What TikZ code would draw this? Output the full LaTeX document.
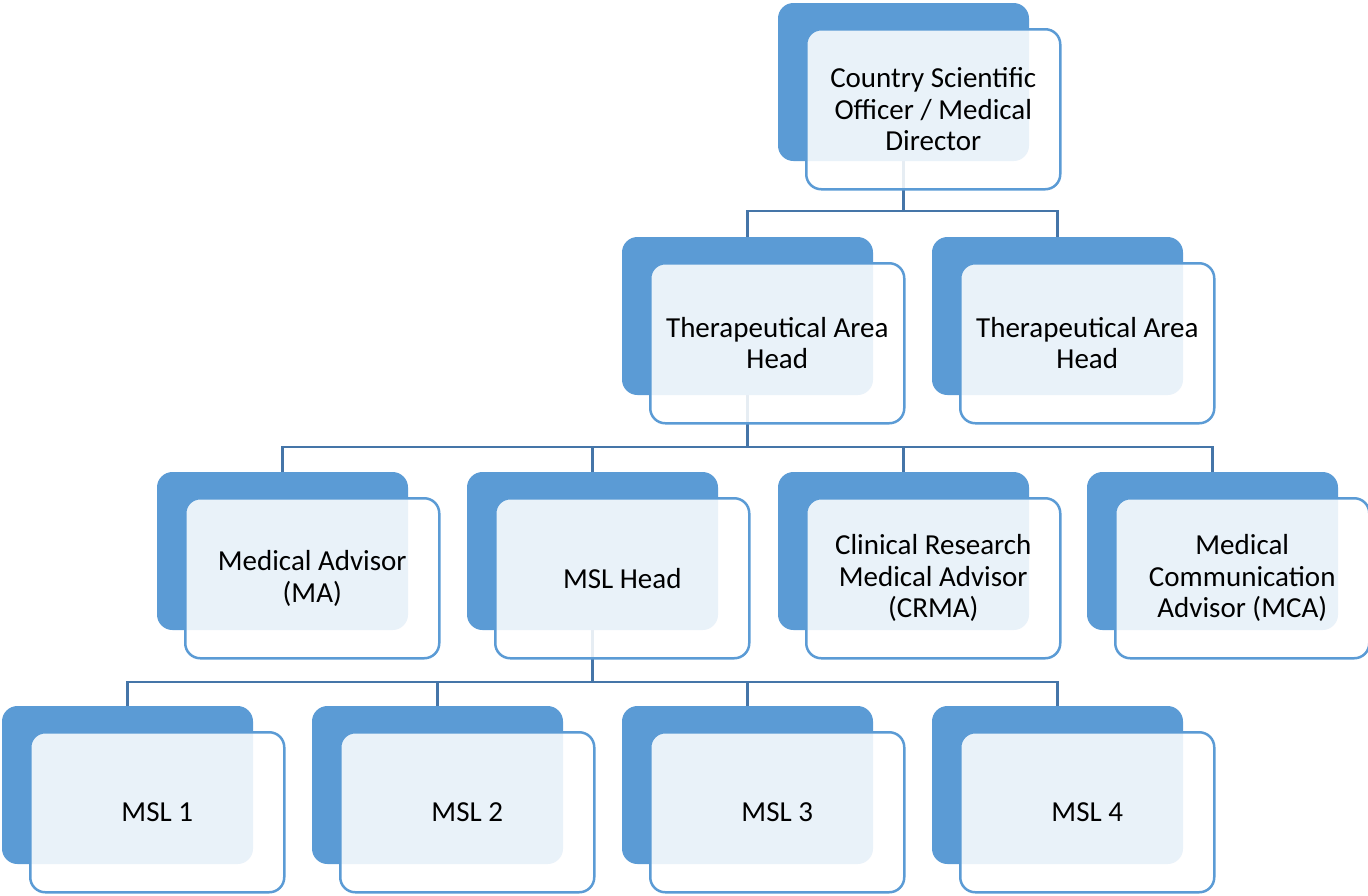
\documentclass[tikz,border=0pt]{standalone}
\usepackage{fontspec}
\setmainfont{Carlito}
\usetikzlibrary{positioning,calc}
\pgfdeclarelayer{background}
\pgfsetlayers{background,main}
\definecolor{boxblue}{HTML}{5B9BD5}
\definecolor{linkblue}{HTML}{4575A8}
\tikzset{
  backbox/.style={draw=boxblue, fill=boxblue, line width=1pt, rounded corners=15pt,
    anchor=north west, minimum width=250pt, minimum height=157pt, inner sep=0pt},
  frontbox/.style={draw=boxblue, fill=white, fill opacity=0.87, draw opacity=1, text opacity=1,
    line width=2.5pt, rounded corners=15pt, anchor=north west, minimum width=254pt,
    minimum height=160pt, inner sep=0pt, align=center,
    font=\fontsize{29}{31.5}\selectfont},
  conn/.style={draw=linkblue, line width=2.3pt}
}
\newcommand{\orgbox}[4]{%
  \node[backbox] (#1B) at (#2,#3) {};
  \node[frontbox] (#1) at (#2+27,#3+25) {#4};
}
\begin{document}
\begin{tikzpicture}[x=1pt,y=-1pt]
\useasboundingbox (0,0) rectangle (1368,895);
\orgbox{cso}{778}{3}{Country Scientific\\Officer / Medical\\Director}
\orgbox{taa}{622}{237}{Therapeutical Area\\Head}
\orgbox{tab}{932}{237}{Therapeutical Area\\Head}
\orgbox{ma}{157}{472}{Medical Advisor\\(MA)}
\orgbox{mslh}{467}{472}{MSL Head}
\orgbox{crma}{778}{472}{Clinical Research\\Medical Advisor\\(CRMA)}
\orgbox{mca}{1087}{472}{Medical\\Communication\\Advisor (MCA)}
\orgbox{msla}{2}{706}{MSL 1}
\orgbox{mslb}{312}{706}{MSL 2}
\orgbox{mslc}{622}{706}{MSL 3}
\orgbox{msld}{932}{706}{MSL 4}
\begin{pgfonlayer}{background}
\coordinate (j0) at ($(csoB.south)+(0,50)$);
\draw[conn] (csoB.south) -- (j0) -| (taaB.north);
\draw[conn] (j0) -| (tabB.north);
\coordinate (j1) at ($(taaB.south)+(0,52)$);
\draw[conn] (taaB.south) -- (j1) -| (maB.north);
\draw[conn] (j1) -| (mslhB.north);
\draw[conn] (j1) -| (crmaB.north);
\draw[conn] (j1) -| (mcaB.north);
\coordinate (j2) at ($(mslhB.south)+(0,52)$);
\draw[conn] (mslhB.south) -- (j2) -| (mslaB.north);
\draw[conn] (j2) -| (mslbB.north);
\draw[conn] (j2) -| (mslcB.north);
\draw[conn] (j2) -| (msldB.north);
\end{pgfonlayer}
\end{tikzpicture}
\end{document}
